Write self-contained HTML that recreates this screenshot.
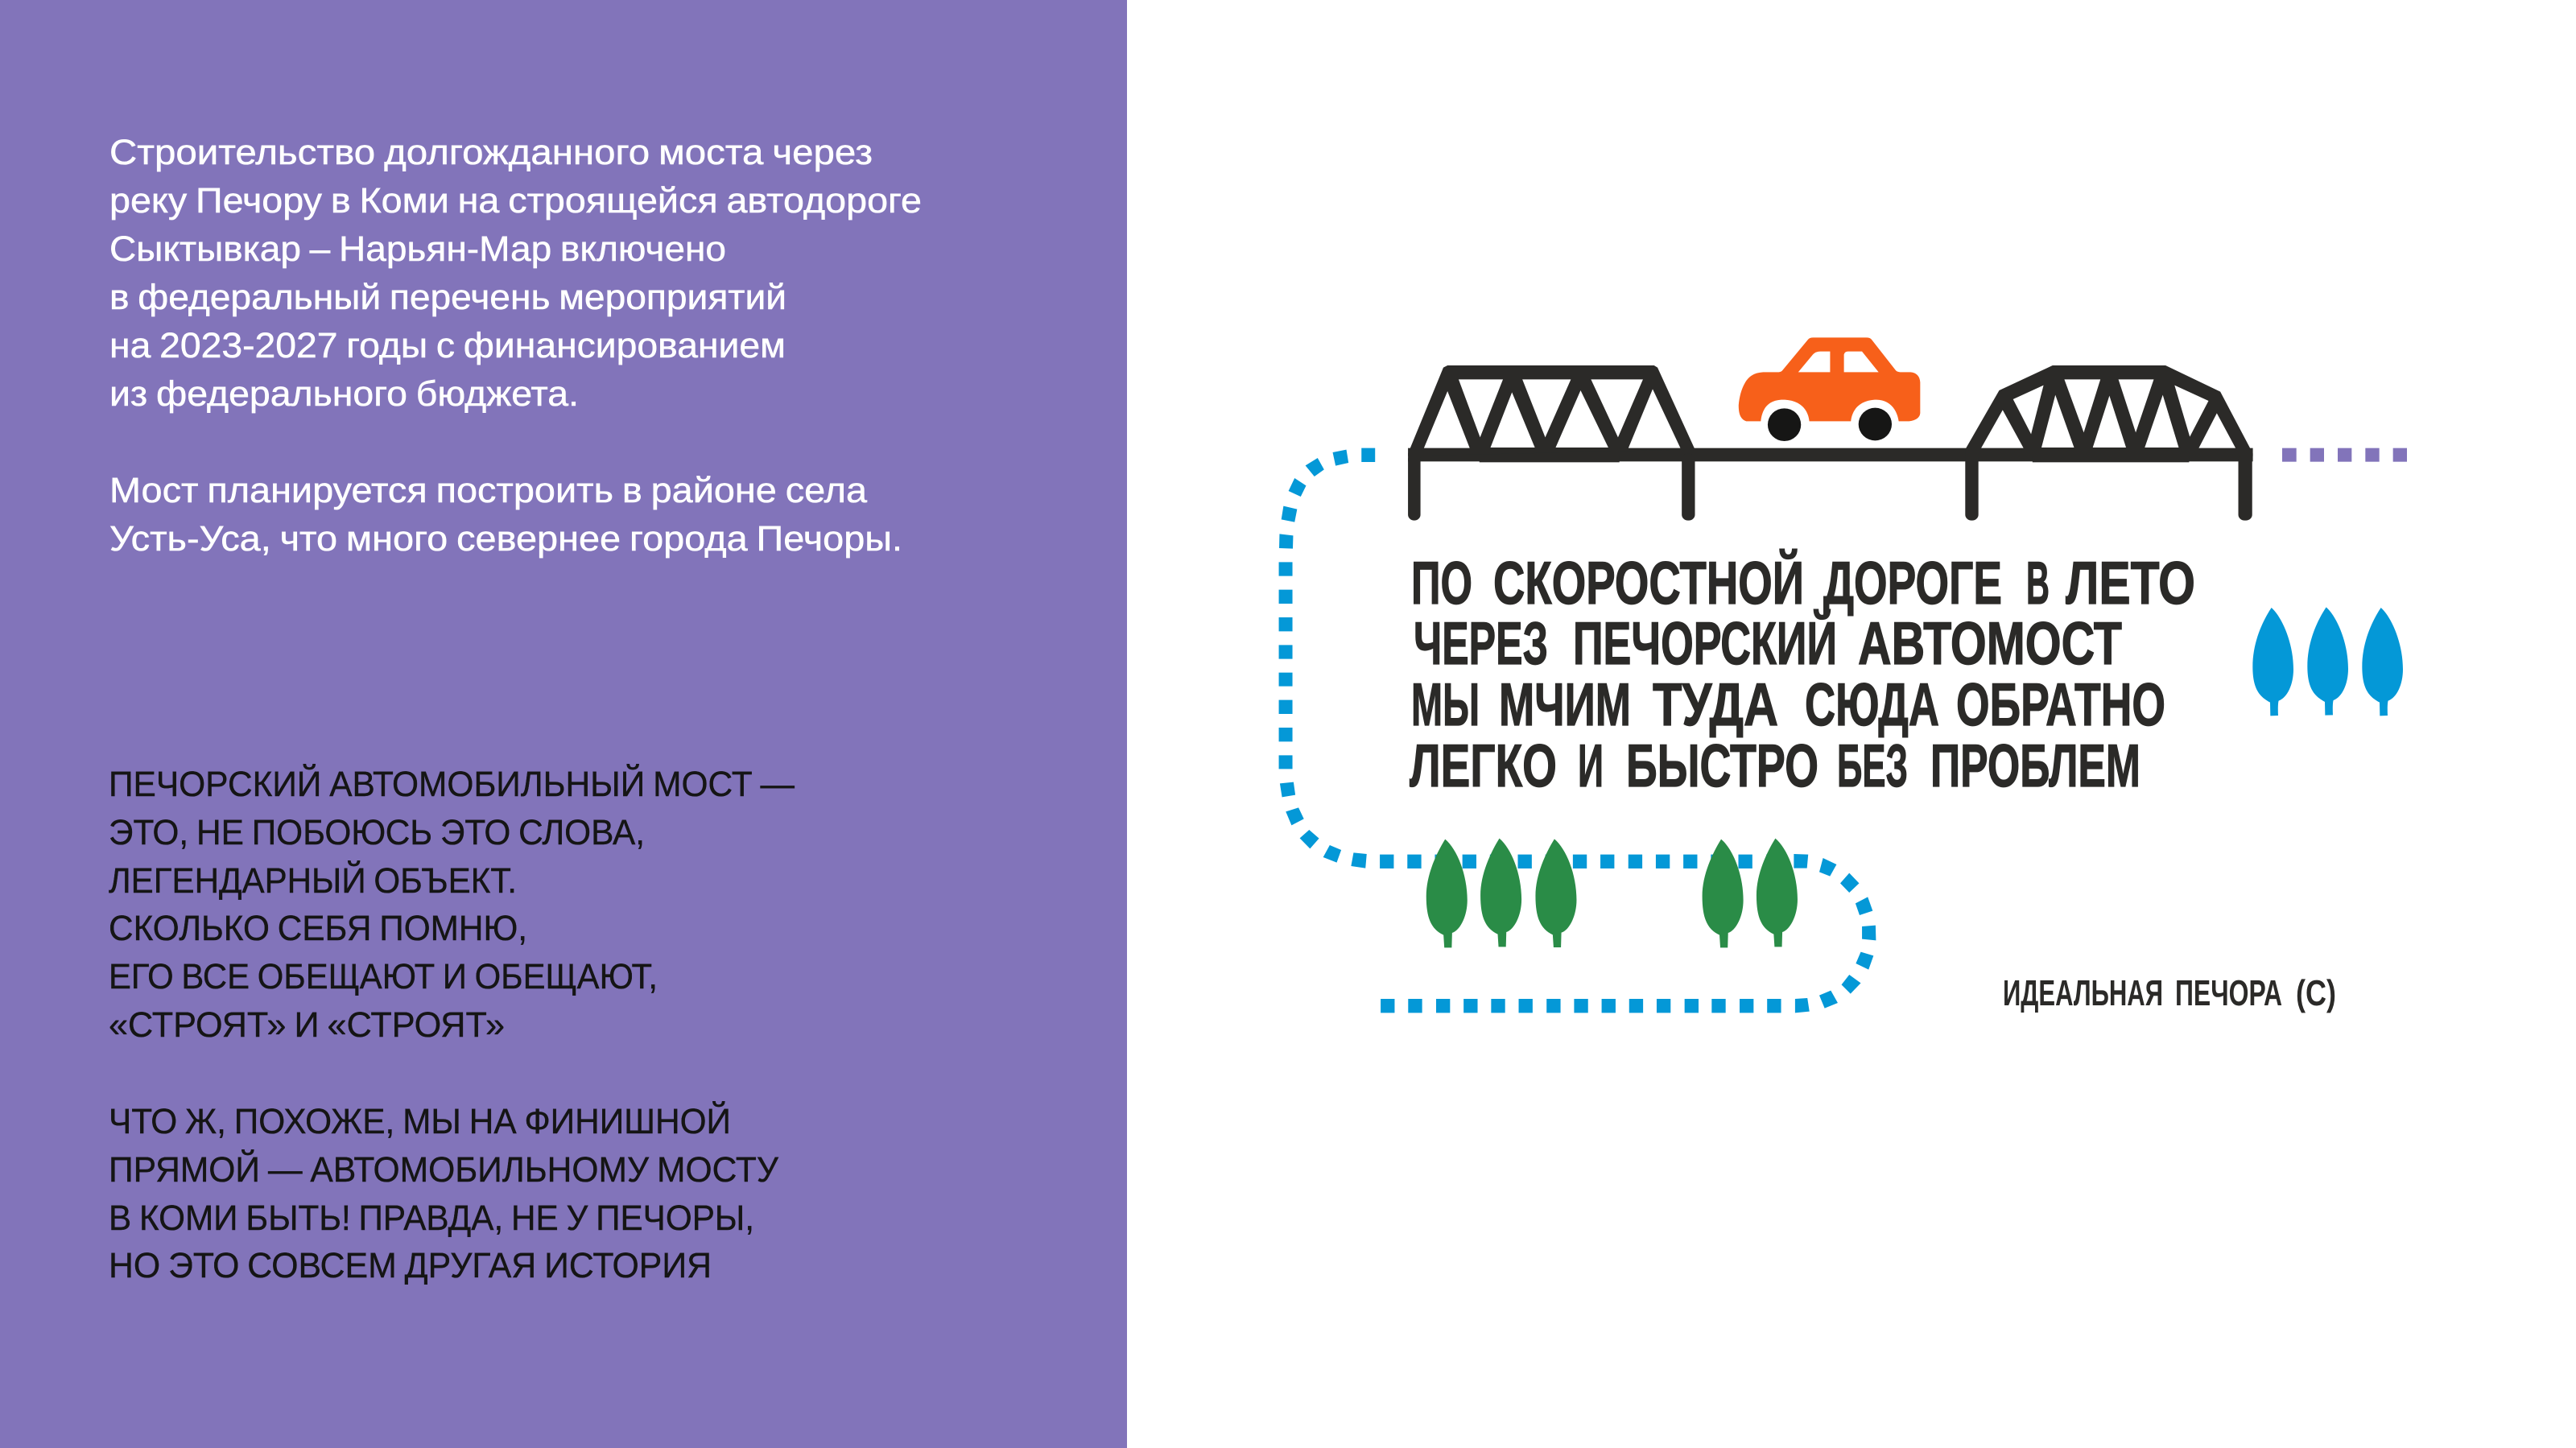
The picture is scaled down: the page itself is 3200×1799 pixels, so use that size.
<!DOCTYPE html>
<html lang="ru">
<head>
<meta charset="utf-8">
<title>Печорский автомост</title>
<style>
html,body{margin:0;padding:0;background:#fff;width:3200px;height:1799px;overflow:hidden}
svg{display:block}
text{text-rendering:geometricPrecision}
.w{font:44px "Liberation Sans","Noto Sans CJK SC",sans-serif;fill:#fff;stroke:#fff;stroke-width:.5;word-spacing:-2px}
.k{font:44px "Liberation Sans","Noto Sans CJK SC",sans-serif;fill:#151515;stroke:#151515;stroke-width:.4;word-spacing:-2px}
.h{font:bold 75px "Liberation Sans","Noto Sans CJK SC",sans-serif;fill:#2b2a28;stroke:#2b2a28;stroke-width:1.2}
.c{font:bold 45px "Liberation Sans","Noto Sans CJK SC",sans-serif;fill:#2b2a28}
</style>
</head>
<body>
<svg xmlns="http://www.w3.org/2000/svg" width="3200" height="1799" viewBox="0 0 3200 1799">
<rect width="3200" height="1799" fill="#fff"/>
<rect width="1400" height="1799" fill="#8274ba"/>

<!-- left text -->
<text class="w" x="136" y="204" textLength="948" lengthAdjust="spacingAndGlyphs">Строительство долгожданного моста через</text>
<text class="w" x="136" y="264" textLength="1009" lengthAdjust="spacingAndGlyphs">реку Печору в Коми на строящейся автодороге</text>
<text class="w" x="136" y="324" textLength="766" lengthAdjust="spacingAndGlyphs">Сыктывкар – Нарьян-Мар включено</text>
<text class="w" x="136" y="384" textLength="841" lengthAdjust="spacingAndGlyphs">в федеральный перечень мероприятий</text>
<text class="w" x="136" y="444" textLength="840" lengthAdjust="spacingAndGlyphs">на 2023-2027 годы с финансированием</text>
<text class="w" x="136" y="504" textLength="583" lengthAdjust="spacingAndGlyphs">из федерального бюджета.</text>
<text class="w" x="136" y="624" textLength="941" lengthAdjust="spacingAndGlyphs">Мост планируется построить в районе села</text>
<text class="w" x="136" y="684" textLength="985" lengthAdjust="spacingAndGlyphs">Усть-Уса, что много севернее города Печоры.</text>

<text class="k" x="135" y="989" textLength="852" lengthAdjust="spacingAndGlyphs">ПЕЧОРСКИЙ АВТОМОБИЛЬНЫЙ МОСТ —</text>
<text class="k" x="135" y="1049" textLength="666" lengthAdjust="spacingAndGlyphs">ЭТО, НЕ ПОБОЮСЬ ЭТО СЛОВА,</text>
<text class="k" x="135" y="1109" textLength="507" lengthAdjust="spacingAndGlyphs">ЛЕГЕНДАРНЫЙ ОБЪЕКТ.</text>
<text class="k" x="135" y="1168" textLength="520" lengthAdjust="spacingAndGlyphs">СКОЛЬКО СЕБЯ ПОМНЮ,</text>
<text class="k" x="135" y="1228" textLength="682" lengthAdjust="spacingAndGlyphs">ЕГО ВСЕ ОБЕЩАЮТ И ОБЕЩАЮТ,</text>
<text class="k" x="135" y="1288" textLength="492" lengthAdjust="spacingAndGlyphs">«СТРОЯТ» И «СТРОЯТ»</text>
<text class="k" x="135" y="1408" textLength="773" lengthAdjust="spacingAndGlyphs">ЧТО Ж, ПОХОЖЕ, МЫ НА ФИНИШНОЙ</text>
<text class="k" x="135" y="1468" textLength="832" lengthAdjust="spacingAndGlyphs">ПРЯМОЙ — АВТОМОБИЛЬНОМУ МОСТУ</text>
<text class="k" x="135" y="1528" textLength="802" lengthAdjust="spacingAndGlyphs">В КОМИ БЫТЬ! ПРАВДА, НЕ У ПЕЧОРЫ,</text>
<text class="k" x="135" y="1587" textLength="749" lengthAdjust="spacingAndGlyphs">НО ЭТО СОВСЕМ ДРУГАЯ ИСТОРИЯ</text>

<!-- blue dashes, upper-left corner and vertical run -->
<g transform="translate(1560,540) scale(.44643,.33333)" fill="#0498d7">
<path d="M294 50H332V102H294Z"/>
<path d="M214 66L252 56L258 105L222 116Z"/>
<path d="M138 115L172 87L190 130L163 156Z"/>
<path d="M108 162L140 190L125 231L91 210Z"/>
<path d="M77 266L115 278L108 326L71 316Z"/>
<path d="M66 370L104 376L103 425L65 423Z"/>
<path d="M64 475H102V527H64ZM64 578H102V630H64ZM64 681H102V733H64ZM64 784H102V836H64ZM64 887H102V938H64ZM64 989H102V1041H64ZM64 1092H102V1144H64ZM64 1195H102V1246H64Z"/>
<path d="M67 1300L105 1295L110 1343L73 1351Z"/>
</g>

<!-- blue dashes, lower part -->
<g transform="translate(1560,980) scale(.5102,.33333)" fill="#0498d7">
<path d="M73 85L104 70L117 112L87 136Z"/>
<path d="M130 153L154 185L132 223L107 184Z"/>
<path d="M180 210L208 228L197 275L164 255Z"/>
<path d="M238 238L270 243L267 296L232 288Z"/>
<path d="M302 245H336V297H302ZM369 245H403V297H369ZM436 245H470V297H436ZM503 245H537V297H503ZM570 245H604V297H570ZM638 245H672V297H638ZM705 245H739V297H705ZM772 245H806V297H772ZM839 245H873V297H839ZM907 245H941V297H907ZM974 245H1008V297H974ZM1041 245H1075V297H1041ZM1108 245H1142V297H1108ZM1175 245H1209V297H1175ZM1243 245H1277V297H1243Z"/>
<path d="M1310 243L1345 245L1342 296L1310 296Z"/>
<path d="M1381 258L1414 282L1398 326L1372 310Z"/>
<path d="M1445 314L1469 352L1445 387L1423 352Z"/>
<path d="M1490 403L1502 455L1470 471L1460 427Z"/>
<path d="M1476 513L1509 509L1510 565L1476 560Z"/>
<path d="M1473 608L1504 622L1492 674L1461 651Z"/>
<path d="M1445 693L1473 724L1448 764L1426 730Z"/>
<path d="M1400 752L1417 798L1385 818L1372 770Z"/>
<path d="M1313 783L1343 780L1348 830L1313 835Z"/>
<path d="M304 783H338V835H304ZM371 783H405V835H371ZM439 783H473V835H439ZM506 783H540V835H506ZM573 783H607V835H573ZM640 783H674V835H640ZM708 783H742V835H708ZM775 783H809V835H775ZM842 783H876V835H842ZM909 783H943V835H909ZM976 783H1010V835H976ZM1044 783H1078V835H1044ZM1110 783H1144V835H1110ZM1178 783H1212V835H1178ZM1245 783H1279V835H1245Z"/>
</g>

<!-- green trees -->
<g transform="translate(1560,980) scale(.5102,.33333)" fill="#2a8c47">
<path d="M461 188C490 225 515 320 515 415C515 480 495 530 478 537L477 592L459 592L457 545C430 525 415 490 415 400C415 320 440 240 461 188Z"/>
<path transform="translate(132,-3)" d="M461 188C490 225 515 320 515 415C515 480 495 530 478 537L477 592L459 592L457 545C430 525 415 490 415 400C415 320 440 240 461 188Z"/>
<path transform="translate(266,-1)" d="M461 188C490 225 515 320 515 415C515 480 495 530 478 537L477 592L459 592L457 545C430 525 415 490 415 400C415 320 440 240 461 188Z"/>
<path transform="translate(672,0)" d="M461 188C490 225 515 320 515 415C515 480 495 530 478 537L477 592L459 592L457 545C430 525 415 490 415 400C415 320 440 240 461 188Z"/>
<path transform="translate(804,-3)" d="M461 188C490 225 515 320 515 415C515 480 495 530 478 537L477 592L459 592L457 545C430 525 415 490 415 400C415 320 440 240 461 188Z"/>
</g>

<!-- blue trees and purple dots -->
<g transform="translate(2700,520) scale(.33333)">
<g fill="#0498d7">
<path d="M365 705C400 735 447 830 447 935C447 990 425 1040 392 1052C389 1060 389 1090 390 1107L361 1108L360 1058C330 1040 295 1020 295 925C295 830 335 750 365 705Z"/>
<path transform="translate(204,-2)" d="M365 705C400 735 447 830 447 935C447 990 425 1040 392 1052C389 1060 389 1090 390 1107L361 1108L360 1058C330 1040 295 1020 295 925C295 830 335 750 365 705Z"/>
<path transform="translate(408,0)" d="M365 705C400 735 447 830 447 935C447 990 425 1040 392 1052C389 1060 389 1090 390 1107L361 1108L360 1058C330 1040 295 1020 295 925C295 830 335 750 365 705Z"/>
</g>
<g fill="#8274ba">
<rect x="405" y="110" width="53" height="51"/>
<rect x="509" y="110" width="52" height="51"/>
<rect x="612" y="110" width="52" height="51"/>
<rect x="715" y="110" width="52" height="51"/>
<rect x="818" y="110" width="52" height="51"/>
</g>
</g>

<!-- bridge and car -->
<g transform="translate(1700,400) scale(.86097,.33333)">
<g fill="#2b2a28">
<rect x="57" y="470" width="1219" height="50"/>
<rect x="160" y="500" width="202" height="23"/>
<rect x="958" y="500" width="226" height="23"/>
<rect x="57" y="490" width="18" height="250" rx="9" ry="22"/>
<rect x="452" y="490" width="19" height="250" rx="9" ry="22"/>
<rect x="861" y="490" width="19" height="250" rx="9" ry="22"/>
<rect x="1255" y="490" width="20" height="250" rx="9" ry="22"/>
<path d="M57 490L108 170L114 162L412 162L417 170L471 475L57 500Z"/>
<path d="M861 475L910 255L987 162L1150 162L1229 260L1276 490L1276 500L861 500Z"/>
</g>
<g fill="#fff">
<path d="M80 470H146L114 258Z"/>
<path d="M130 214H194L161 430Z"/>
<path d="M176 468H240L207 262Z"/>
<path d="M222 214H292L255 430Z"/>
<path d="M270 468H346L306 255Z"/>
<path d="M321 214H396L360 430Z"/>
<path d="M375 470H450L410 250Z"/>
<path d="M884 470H945L915 328Z"/>
<path d="M930 288L974 236L956 418Z"/>
<path d="M971 468H1018L991 272Z"/>
<path d="M1004 214H1056L1032 412Z"/>
<path d="M1045 468H1093L1069 275Z"/>
<path d="M1082 214H1133L1107 412Z"/>
<path d="M1120 468H1169L1146 272Z"/>
<path d="M1163 236L1212 294L1185 428Z"/>
<path d="M1198 470H1251L1224 340Z"/>
</g>
<path fill="#f7601a" d="M545 370C536 362 534 340 534 310C535 280 538 250 543 228C549 200 558 187 572 187L592 187Q596 186 598 178L634 66Q636 58 642 58L718 58Q724 58 726 66L760 178Q762 186 767 187L782 187Q795 190 796 225L796 340Q795 365 780 370L765 370C762 320 750 290 733 290C712 290 698 320 696 370L636 370C634 320 620 290 598 290C578 290 568 320 566 370Z"/>
<path fill="#fff" d="M620 187L641 122Q645 110 652 110L666 110L666 187Z"/>
<path fill="#fff" d="M686 187L686 122Q687 110 692 110L712 110L736 187Z"/>
<ellipse cx="600" cy="383" rx="24" ry="61" fill="#161615"/>
<ellipse cx="731" cy="381" rx="24" ry="61" fill="#161615"/>
</g>

<!-- heading -->
<text class="h" x="1753" y="750" textLength="76" lengthAdjust="spacingAndGlyphs">ПО</text>
<text class="h" x="1855" y="750" textLength="386" lengthAdjust="spacingAndGlyphs">СКОРОСТНОЙ</text>
<text class="h" x="2265" y="750" textLength="222" lengthAdjust="spacingAndGlyphs">ДОРОГЕ</text>
<text class="h" x="2517" y="750" textLength="29" lengthAdjust="spacingAndGlyphs">В</text>
<text class="h" x="2566" y="750" textLength="161" lengthAdjust="spacingAndGlyphs">ЛЕТО</text>

<text class="h" x="1756" y="825" textLength="167" lengthAdjust="spacingAndGlyphs">ЧЕРЕЗ</text>
<text class="h" x="1954" y="825" textLength="328" lengthAdjust="spacingAndGlyphs">ПЕЧОРСКИЙ</text>
<text class="h" x="2308" y="825" textLength="328" lengthAdjust="spacingAndGlyphs">АВТОМОСТ</text>

<text class="h" x="1753" y="901" textLength="85" lengthAdjust="spacingAndGlyphs">МЫ</text>
<text class="h" x="1862" y="901" textLength="164" lengthAdjust="spacingAndGlyphs">МЧИМ</text>
<text class="h" x="2053" y="901" textLength="156" lengthAdjust="spacingAndGlyphs">ТУДА</text>
<text class="h" x="2242" y="901" textLength="167" lengthAdjust="spacingAndGlyphs">СЮДА</text>
<text class="h" x="2430" y="901" textLength="260" lengthAdjust="spacingAndGlyphs">ОБРАТНО</text>

<text class="h" x="1751" y="977" textLength="183" lengthAdjust="spacingAndGlyphs">ЛЕГКО</text>
<text class="h" x="1960" y="977" textLength="32" lengthAdjust="spacingAndGlyphs">И</text>
<text class="h" x="2020" y="977" textLength="239" lengthAdjust="spacingAndGlyphs">БЫСТРО</text>
<text class="h" x="2282" y="977" textLength="88" lengthAdjust="spacingAndGlyphs">БЕЗ</text>
<text class="h" x="2398" y="977" textLength="261" lengthAdjust="spacingAndGlyphs">ПРОБЛЕМ</text>

<text class="c" x="2488" y="1249" textLength="199" lengthAdjust="spacingAndGlyphs">ИДЕАЛЬНАЯ</text>
<text class="c" x="2702" y="1249" textLength="133" lengthAdjust="spacingAndGlyphs">ПЕЧОРА</text>
<text class="c" x="2852" y="1249" textLength="50" lengthAdjust="spacingAndGlyphs">(С)</text>
</svg>
</body>
</html>
